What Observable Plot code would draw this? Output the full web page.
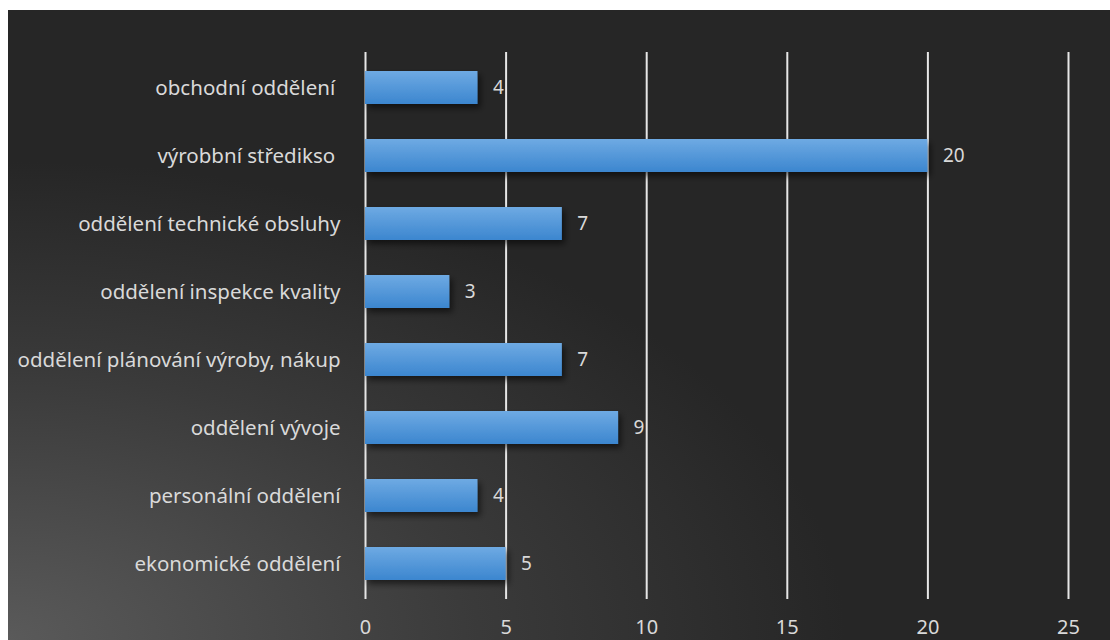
<!DOCTYPE html>
<html><head><meta charset="utf-8">
<script src="https://cdn.jsdelivr.net/npm/d3@7"></script>
<script src="https://cdn.jsdelivr.net/npm/@observablehq/plot@0.6"></script>
<style>
html,body{margin:0;padding:0;background:#fff;}
#frame{position:absolute;left:8px;top:10px;width:1102px;height:630px;overflow:hidden;
background:radial-gradient(ellipse 95% 95% at 0% 100%, #5a5a5a 0%, #3a3a3a 45%, #262626 80%, #262626 100%);}
svg text{white-space:pre;}
</style>
</head><body>
<div id="frame"></div>
<script>
const categories = ["obchodní oddělení ", "výrobbní středikso ", "oddělení technické obsluhy", "oddělení inspekce kvality", "oddělení plánování výroby, nákup", "oddělení vývoje", "personální oddělení", "ekonomické oddělení"];
const values = [4, 20, 7, 3, 7, 9, 4, 5];
const xTicks = [0, 5, 10, 15, 20, 25];

const data = categories.map((c, i) => ({cat: c, val: values[i]}));

const chart = Plot.plot({
  width: 1102,
  height: 630,
  marginLeft: 357,
  marginRight: 42,
  marginTop: 42,
  marginBottom: 41,
  style: {background: "transparent", fontFamily: "'Noto Sans', sans-serif", fontSize: "20px", color: "#d9d9d9", overflow: "visible"},
  x: {domain: [0, 25], ticks: xTicks, label: null, tickSize: 0, tickPadding: 20},
  y: {domain: categories, label: null, tickSize: 0, tickPadding: 25, paddingInner: 0.52, paddingOuter: 0.26},
  marks: [
    Plot.ruleX(xTicks, {stroke: "#e6e6e6", strokeWidth: 2}),
    Plot.barX(data, {x: "val", y: "cat", fill: "url(#barGrad)"}),
    Plot.text(data, {x: "val", y: "cat", text: d => String(d.val), textAnchor: "start", dx: 15, fill: "#d9d9d9", fontSize: 19})
  ]
});

const svg = d3.select(chart);
const defs = svg.insert("defs", ":first-child");
const g = defs.append("linearGradient").attr("id", "barGrad").attr("x1", 0).attr("y1", 0).attr("x2", 0).attr("y2", 1);
g.append("stop").attr("offset", "0%").attr("stop-color", "#6eaae3");
g.append("stop").attr("offset", "100%").attr("stop-color", "#3c86cf");
const f = defs.append("filter").attr("id", "shadow").attr("x", "-10%").attr("y", "-30%").attr("width", "130%").attr("height", "200%");
f.append("feDropShadow").attr("dx", 3).attr("dy", 4).attr("stdDeviation", 3).attr("flood-color", "#000").attr("flood-opacity", 0.55);
svg.selectAll("g[aria-label='bar'] rect").attr("filter", "url(#shadow)");
svg.selectAll("g[aria-label='x-axis tick label'] text, g[aria-label='y-axis tick label'] text").attr("fill", "#d9d9d9");
svg.select("g[aria-label='y-axis tick label']").attr("font-size", "20.5px");
svg.select("g[aria-label='x-axis tick label']").attr("font-size", "20px");
document.getElementById("frame").appendChild(chart);
</script>
</body></html>
